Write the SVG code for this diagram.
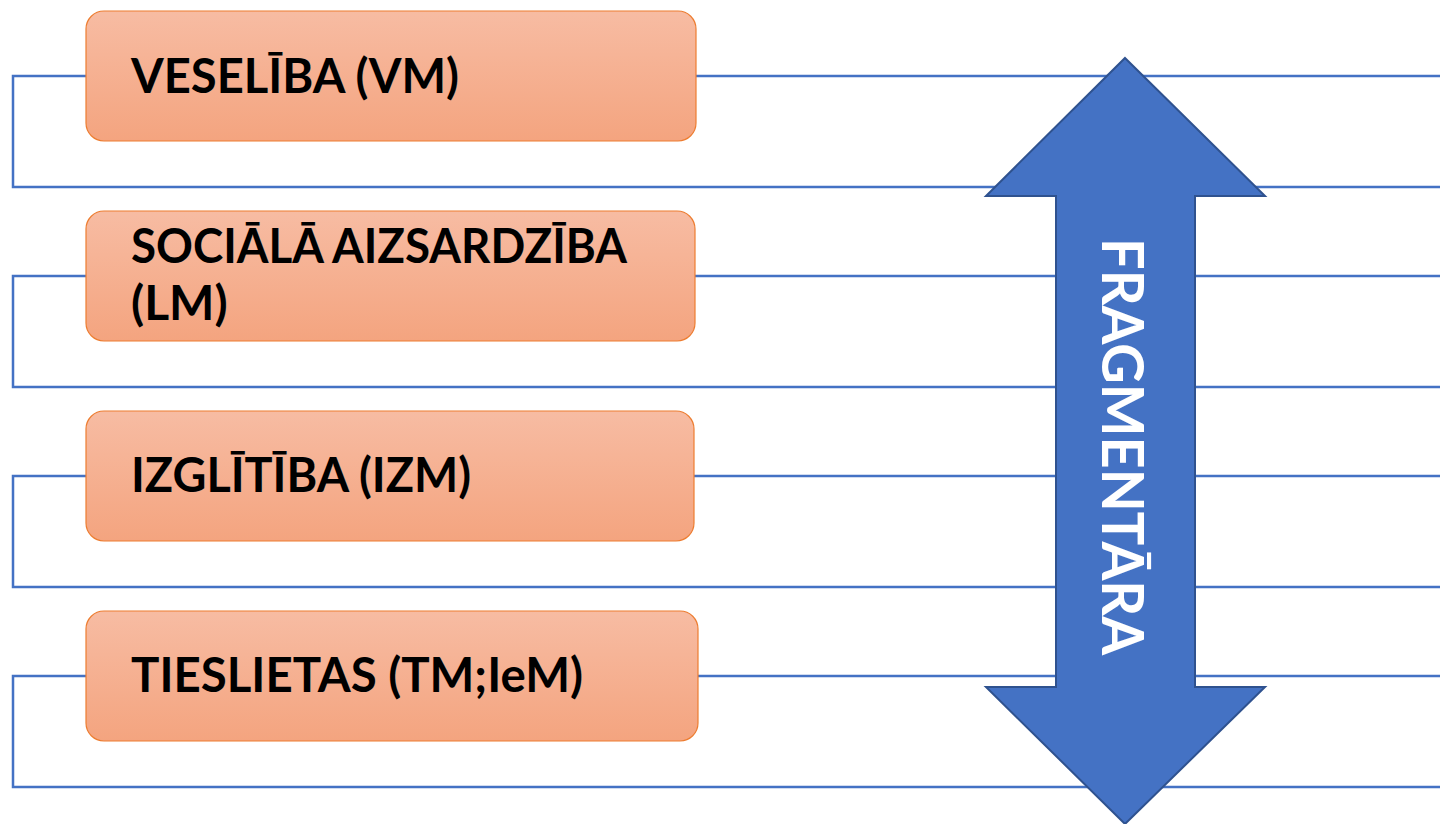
<svg xmlns="http://www.w3.org/2000/svg" width="1440" height="824" viewBox="0 0 1440 824">
<defs>
<linearGradient id="og" x1="0" y1="0" x2="0" y2="1">
<stop offset="0" stop-color="#F7BCA3"/>
<stop offset="1" stop-color="#F4A47F"/>
</linearGradient>
<style>
.conn{fill:none;stroke:#4472C4;stroke-width:2.5}
.box{fill:url(#og);stroke:#ED7D31;stroke-width:1.2}
.lbl{font-family:Lato,"Open Sans","Liberation Sans",sans-serif;font-weight:bold;font-size:48px;fill:#000}
.arrow{fill:#4472C4;stroke:#2F528F;stroke-width:2}
.atext{font-family:Lato,"Open Sans","Liberation Sans",sans-serif;font-weight:bold;font-size:58px;fill:#fff}
</style>
</defs>
<rect width="1440" height="824" fill="#fff"/>
<g id="connectors">
<path class="conn" d="M1442 76 H13 V187 H1442"/>
<path class="conn" d="M1442 276 H13 V387 H1442"/>
<path class="conn" d="M1442 476 H13 V587 H1442"/>
<path class="conn" d="M1442 676 H13 V787 H1442"/>
</g>
<g id="node-veseliba">
<rect class="box" x="86" y="11" width="610" height="130" rx="18"/>
<text class="lbl" x="131" y="93" textLength="328" lengthAdjust="spacingAndGlyphs">VESELĪBA (VM)</text>
</g>
<g id="node-sociala">
<rect class="box" x="86" y="211" width="609" height="130" rx="18"/>
<text class="lbl" x="131" y="263" textLength="496" lengthAdjust="spacingAndGlyphs">SOCIĀLĀ AIZSARDZĪBA</text>
<text class="lbl" x="131" y="320">(LM)</text>
</g>
<g id="node-izglitiba">
<rect class="box" x="86" y="411" width="608" height="130" rx="18"/>
<text class="lbl" x="131" y="492" textLength="340" lengthAdjust="spacingAndGlyphs">IZGLĪTĪBA (IZM)</text>
</g>
<g id="node-tieslietas">
<rect class="box" x="86" y="611" width="612" height="130" rx="18"/>
<text class="lbl" x="131" y="692" textLength="452" lengthAdjust="spacingAndGlyphs">TIESLIETAS (TM;IeM)</text>
</g>
<g id="node-fragmentara">
<polygon class="arrow" points="1125,58 1265,196 1195,196 1195,687 1265,687 1125,824 986,687 1056,687 1056,196 986,196"/>
<text class="atext" transform="translate(1102,238) rotate(90)" x="0" y="0" textLength="417" lengthAdjust="spacingAndGlyphs">FRAGMENTĀRA</text>
</g>
</svg>
